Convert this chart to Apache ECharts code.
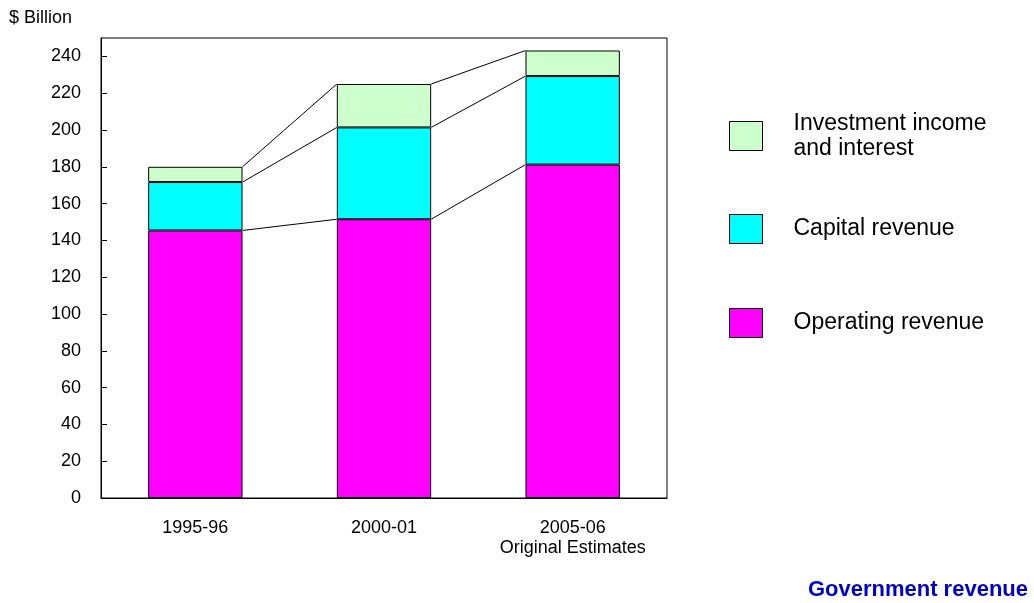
<!DOCTYPE html>
<html>
<head>
<meta charset="utf-8">
<script src="https://cdn.jsdelivr.net/npm/echarts@6/dist/echarts.min.js"></script>
<style>html,body{margin:0;padding:0;background:#fff}#c{width:1034px;height:603px}</style>
</head>
<body>
<div id="c"></div>
<script>
const categories = ['1995-96', '2000-01', '2005-06\nOriginal Estimates'];
const operatingRevenue = [145.4, 151.5, 181.2];
const capitalRevenue = [26.3, 49.9, 48.1];
const investmentIncome = [8.3, 23.6, 13.9];
const seriesNames = ['Operating revenue', 'Capital revenue', 'Investment income\nand interest'];
const yTicks = [0, 20, 40, 60, 80, 100, 120, 140, 160, 180, 200, 220, 240];

const colors = ['#FF00FF', '#00FFFF', '#CCFFCC'];
const layers = [operatingRevenue, capitalRevenue, investmentIncome];
// cumulative tops for connector lines
const cum = [];
let run = categories.map(() => 0);
layers.forEach(l => { run = run.map((v, i) => v + l[i]); cum.push(run.slice()); });

const chart = echarts.init(document.getElementById('c'));
const FONT = 'Liberation Sans, Arial, sans-serif';

const barSeries = layers.map((d, k) => ({
  name: seriesNames[k],
  type: 'bar',
  stack: 'total',
  data: d,
  barWidth: '50%',
  itemStyle: { color: colors[k], borderColor: '#000', borderWidth: 1 },
  emphasis: { disabled: true },
  z: 2
}));

const connectorSeries = {
  type: 'custom',
  coordinateSystem: 'cartesian2d',
  silent: true,
  z: 3,
  data: cum.flatMap((row, k) => row.slice(0, -1).map((v, i) => [i, v, row[i + 1], k])),
  renderItem: function (params, api) {
    const i = api.value(0);
    const band = api.size([1, 0])[0];
    const p1 = api.coord([i, api.value(1)]);
    const p2 = api.coord([i + 1, api.value(2)]);
    return {
      type: 'line',
      shape: { x1: p1[0] + band * 0.25, y1: p1[1], x2: p2[0] - band * 0.25, y2: p2[1] },
      style: { stroke: '#000', lineWidth: 1 }
    };
  }
};

const legendTops = [303, 209, 106];
const legends = seriesNames.map((n, k) => ({
  data: [n],
  left: 724,
  top: legendTops[k],
  orient: 'vertical',
  itemWidth: 33,
  itemHeight: 29,
  itemGap: 0,
  selectedMode: false,
  icon: 'rect',
  itemStyle: { borderColor: '#000', borderWidth: 1 },
  textStyle: { fontFamily: FONT, fontSize: 23, color: '#000', lineHeight: 25, padding: [0, 0, 0, 26] }
}));

chart.setOption({
  animation: false,
  backgroundColor: '#fff',
  color: colors,
  textStyle: { fontFamily: FONT },
  title: [
    { text: '$ Billion', left: 9, top: 9, padding: 0, textStyle: { fontFamily: FONT, fontSize: 18, fontWeight: 'normal', color: '#000' } },
    { text: 'Government revenue', right: 6, top: 579, padding: 0, textStyle: { fontFamily: FONT, fontSize: 22, fontWeight: 'bold', color: '#0000CC' } }
  ],
  legend: legends,
  grid: { left: 101, right: 367, top: 38, bottom: 105, show: true, borderColor: '#000', borderWidth: 1, containLabel: false },
  xAxis: {
    type: 'category',
    data: categories,
    axisLine: { lineStyle: { color: '#000', width: 1 } },
    axisTick: { inside: true, length: 6, lineStyle: { color: '#000' } },
    axisLabel: { interval: 0, fontFamily: FONT, fontSize: 18, color: '#000', margin: 20, lineHeight: 20 }
  },
  yAxis: {
    type: 'value',
    min: 0,
    max: 250,
    interval: 20,
    splitLine: { show: false },
    axisLine: { show: true, lineStyle: { color: '#000', width: 1 } },
    axisTick: { show: true, inside: true, length: 6, lineStyle: { color: '#000' } },
    axisLabel: {
      fontFamily: FONT, fontSize: 18, color: '#000', margin: 20, showMaxLabel: false,
      formatter: v => (yTicks.indexOf(v) >= 0 ? String(v) : '')
    }
  },
  series: barSeries.concat([connectorSeries])
});
</script>
</body>
</html>
